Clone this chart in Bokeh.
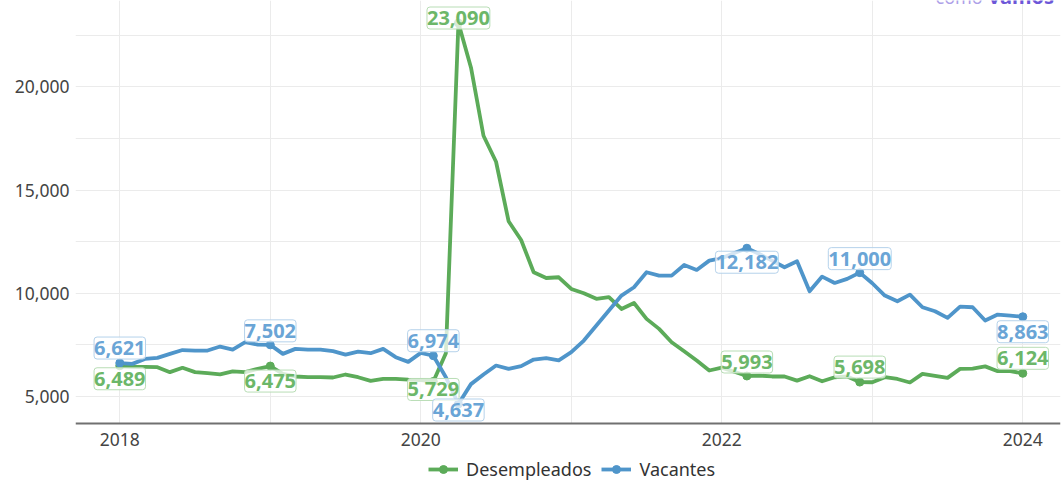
from bokeh.plotting import figure
from bokeh.models import (Range1d, FixedTicker, NumeralTickFormatter, Legend,
                          LegendItem, Label, BoxAnnotation)
from bokeh.embed import file_html
from bokeh.resources import INLINE

# ---------------- data ----------------
start_year = 2018
n_months = 73  # Jan 2018 .. Jan 2024
months = [f"{start_year + i // 12}-{i % 12 + 1:02d}" for i in range(n_months)]

desempleados = [
    6489, 6450, 6435, 6420, 6180, 6390, 6180, 6130, 6070, 6220, 6180, 6340,
    6475, 6100, 5970, 5935, 5935, 5920, 6065, 5935, 5760, 5855, 5855, 5820,
    5800, 5729, 7100, 23090, 20940, 17630, 16370, 13490, 12580, 11020, 10740, 10775,
    10210, 10000, 9730, 9810, 9240, 9530, 8760, 8275, 7630, 7190, 6740, 6260,
    6400, 6200, 5993, 6016, 5970, 5970, 5770, 5980, 5740, 5930, 5970, 5698,
    5690, 5935, 5850, 5680, 6098, 6000, 5903, 6340, 6350, 6460, 6226, 6226,
    6124,
]
vacantes = [
    6621, 6580, 6820, 6870, 7065, 7250, 7226, 7226, 7420, 7275, 7630, 7517,
    7502, 7065, 7307, 7275, 7275, 7194, 7030, 7178, 7098, 7307, 6904, 6678,
    7114, 6974, 5935, 4637, 5600, 6065, 6500, 6339, 6468, 6791, 6860, 6750,
    7146, 7710, 8436, 9162, 9888, 10292, 11017, 10856, 10856, 11372, 11130, 11582,
    11700, 11950, 12182, 11900, 11580, 11258, 11550, 10097, 10808, 10500, 10697, 11000,
    10485, 9890, 9614, 9937, 9322, 9129, 8807, 9356, 9323, 8678, 8968, 8920,
    8863,
]
labeled_months = ["2018-01", "2019-01", "2020-02", "2020-04", "2022-03", "2022-12", "2024-01"]

x_tick_labels = [2018, 2020, 2022, 2024]
x_grid_years = [2018, 2019, 2020, 2021, 2022, 2023, 2024]
y_tick_labels = [5000, 10000, 15000, 20000]
y_grid_values = [5000, 7500, 10000, 12500, 15000, 17500, 20000, 22500]

# ---------------- style ----------------
GREEN = "#5cab59"
BLUE = "#4f95ca"
GREEN_TXT = "#6cb769"
BLUE_TXT = "#6aa5d6"
GREEN_BRD = "#b8ddb5"
BLUE_BRD = "#b5d2eb"
FONT = "Noto Sans"

X_START, X_END = 2017.7057, 2024.2505
Y_START, Y_END = 835, 24180
Y_AXIS_AT = 3707  # where the horizontal axis line sits

# label vertical offsets (px, positive = up), per labeled month
green_offsets = [-13, -15, -8, 5, 14, 15, 15]
blue_offsets = [15, 14, 15, -6, -14, 14, -15]


def to_x(m):
    y, mo = m.split("-")
    return int(y) + (int(mo) - 1) / 12.0


xs = [to_x(m) for m in months]

p = figure(width=1063, height=482, output_backend="svg", toolbar_location=None,
           x_range=Range1d(X_START, X_END), y_range=Range1d(Y_START, Y_END),
           min_border_left=75, min_border_right=3, min_border_top=0,
           min_border_bottom=0, background_fill_color="white",
           border_fill_color="white", outline_line_color=None)

# grids
p.xgrid.ticker = FixedTicker(ticks=x_grid_years)
p.ygrid.ticker = FixedTicker(ticks=y_grid_values)
p.xgrid.grid_line_color = "#ebebeb"
p.ygrid.grid_line_color = "#ebebeb"
p.xgrid.grid_line_width = 1
p.ygrid.grid_line_width = 1

# white mask below the axis line (hides the vertical grid there)
p.add_layout(BoxAnnotation(top=Y_AXIS_AT, bottom=Y_START, left=X_START, right=X_END,
                           fill_color="white", fill_alpha=1.0, line_color=None,
                           level="underlay"))

# axes
p.xaxis.ticker = FixedTicker(ticks=x_tick_labels)
p.xaxis.formatter = NumeralTickFormatter(format="0")
p.xaxis.fixed_location = Y_AXIS_AT
p.yaxis.ticker = FixedTicker(ticks=y_tick_labels)
p.yaxis.formatter = NumeralTickFormatter(format="0,0")
for ax in (p.xaxis, p.yaxis):
    ax.major_tick_line_color = None
    ax.minor_tick_line_color = None
    ax.major_label_text_font = FONT
    ax.major_label_text_font_size = "17.5px"
    ax.major_label_text_color = "#444444"
p.xaxis.axis_line_color = "#707070"
p.xaxis.axis_line_width = 2
p.xaxis.major_label_standoff = 4
p.yaxis.axis_line_color = None
p.yaxis.major_label_standoff = 0

# lines
g_line = p.line(xs, desempleados, color=GREEN, line_width=3.8, line_join="round")
b_line = p.line(xs, vacantes, color=BLUE, line_width=3.8, line_join="round")

idx = [months.index(m) for m in labeled_months]
g_pts = p.scatter([xs[i] for i in idx], [desempleados[i] for i in idx],
                  size=8, color=GREEN)
b_pts = p.scatter([xs[i] for i in idx], [vacantes[i] for i in idx],
                  size=8, color=BLUE)


def add_label(xv, yv, off, txt_color, brd_color):
    p.add_layout(Label(x=xv, y=yv, text=f"{yv:,}", y_offset=off,
                       text_align="center", text_baseline="middle",
                       text_font=FONT, text_font_style="bold",
                       text_font_size="20px", text_color=txt_color,
                       background_fill_color="white", background_fill_alpha=0.75,
                       border_line_color=brd_color, border_line_width=1,
                       padding=(0, 4), border_radius=3))


for k, i in enumerate(idx):
    add_label(xs[i], desempleados[i], green_offsets[k], GREEN_TXT, GREEN_BRD)
for k, i in enumerate(idx):
    add_label(xs[i], vacantes[i], blue_offsets[k], BLUE_TXT, BLUE_BRD)

# watermark (mostly above the visible area, as in the original)
p.add_layout(Label(x=860, y=486, x_units="screen", y_units="screen", text="cómo",
                   text_font=FONT, text_font_size="18px", text_color="#ad9fe8",
                   text_baseline="alphabetic", text_align="left"))
p.add_layout(Label(x=913, y=486, x_units="screen", y_units="screen", text="vamos",
                   text_font=FONT, text_font_size="20px", text_font_style="bold",
                   text_color="#6d57d8", text_baseline="alphabetic", text_align="left"))

legend = Legend(items=[LegendItem(label="Desempleados", renderers=[g_line, g_pts]),
                       LegendItem(label="Vacantes", renderers=[b_line, b_pts])],
                location=(353, 1), orientation="horizontal",
                label_text_font=FONT, label_text_font_size="18px",
                label_text_color="#333333", glyph_width=30, glyph_height=20,
                label_height=20, label_standoff=8, spacing=10, padding=0,
                margin=0, border_line_color=None, background_fill_alpha=0)
p.add_layout(legend, "center")

open("out.html", "w").write(file_html(p, INLINE))
